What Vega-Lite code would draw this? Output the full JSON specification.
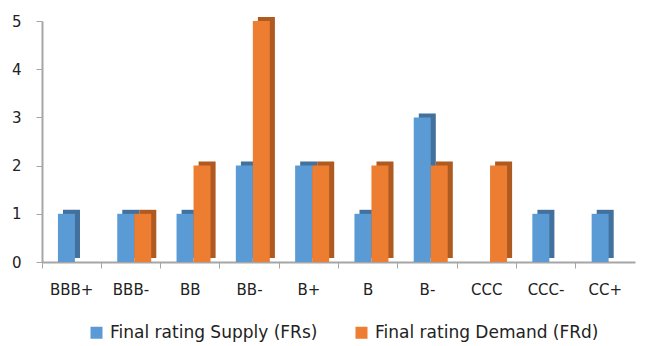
{
  "$schema": "https://vega.github.io/schema/vega-lite/v6.json",
  "width": 593,
  "height": 241,
  "autosize": {"type": "none"},
  "background": "white",
  "padding": {"left": 42, "right": 13, "top": 21, "bottom": 84},
  "config": {
    "view": {"stroke": null},
    "font": "DejaVu Sans",
    "axis": {"labelFont": "DejaVu Sans", "labelColor": "#222222", "domainColor": "#a6a6a6", "tickColor": "#a6a6a6", "grid": false}
  },
  "data": {
    "values": [
      {"rating": "BBB+", "series": "Final rating Supply (FRs)", "count": 1},
      {"rating": "BBB+", "series": "Final rating Demand (FRd)", "count": 0},
      {"rating": "BBB-", "series": "Final rating Supply (FRs)", "count": 1},
      {"rating": "BBB-", "series": "Final rating Demand (FRd)", "count": 1},
      {"rating": "BB", "series": "Final rating Supply (FRs)", "count": 1},
      {"rating": "BB", "series": "Final rating Demand (FRd)", "count": 2},
      {"rating": "BB-", "series": "Final rating Supply (FRs)", "count": 2},
      {"rating": "BB-", "series": "Final rating Demand (FRd)", "count": 5},
      {"rating": "B+", "series": "Final rating Supply (FRs)", "count": 2},
      {"rating": "B+", "series": "Final rating Demand (FRd)", "count": 2},
      {"rating": "B", "series": "Final rating Supply (FRs)", "count": 1},
      {"rating": "B", "series": "Final rating Demand (FRd)", "count": 2},
      {"rating": "B-", "series": "Final rating Supply (FRs)", "count": 3},
      {"rating": "B-", "series": "Final rating Demand (FRd)", "count": 2},
      {"rating": "CCC", "series": "Final rating Supply (FRs)", "count": 0},
      {"rating": "CCC", "series": "Final rating Demand (FRd)", "count": 2},
      {"rating": "CCC-", "series": "Final rating Supply (FRs)", "count": 1},
      {"rating": "CCC-", "series": "Final rating Demand (FRd)", "count": 0},
      {"rating": "CC+", "series": "Final rating Supply (FRs)", "count": 1},
      {"rating": "CC+", "series": "Final rating Demand (FRd)", "count": 0}
    ]
  },
  "resolve": {"scale": {"xOffset": "independent"}},
  "layer": [
    {
      "mark": {"type": "bar", "yOffset": -4, "y2Offset": 0},
      "encoding": {
        "x": {
          "field": "rating", "type": "nominal",
          "sort": ["BBB+", "BBB-", "BB", "BB-", "B+", "B", "B-", "CCC", "CCC-", "CC+"],
          "scale": {"paddingInner": 0, "paddingOuter": 0},
          "axis": {"title": null, "labelAngle": 0, "labelFontSize": 15, "labelPadding": 14, "bandPosition": 0, "tickSize": 6, "domainWidth": 2}
        },
        "xOffset": {
          "field": "series", "type": "nominal",
          "sort": ["Final rating Supply (FRs)", "Final rating Demand (FRd)"],
          "scale": {"paddingInner": 0, "paddingOuter": 0.744, "align": 0.83}
        },
        "y": {
          "field": "count", "type": "quantitative",
          "scale": {"domain": [0, 5], "nice": false},
          "axis": {"title": null, "values": [0, 1, 2, 3, 4, 5], "labelOverlap": false, "labelFontSize": 15, "labelPadding": 15, "tickSize": 6, "domainWidth": 2}
        },
        "color": {
          "field": "series", "type": "nominal",
          "sort": ["Final rating Supply (FRs)", "Final rating Demand (FRd)"],
          "scale": {"range": ["#41719c", "#ae5a21"]},
          "legend": null
        }
      }
    },
    {
      "mark": {"type": "bar"},
      "encoding": {
        "x": {
          "field": "rating", "type": "nominal",
          "sort": ["BBB+", "BBB-", "BB", "BB-", "B+", "B", "B-", "CCC", "CCC-", "CC+"],
          "scale": {"paddingInner": 0, "paddingOuter": 0},
          "axis": {"title": null, "labelAngle": 0, "labelFontSize": 15, "labelPadding": 14, "bandPosition": 0, "tickSize": 6, "domainWidth": 2}
        },
        "xOffset": {
          "field": "series", "type": "nominal",
          "sort": ["Final rating Supply (FRs)", "Final rating Demand (FRd)"],
          "scale": {"paddingInner": 0, "paddingOuter": 0.744, "align": 0.63}
        },
        "y": {
          "field": "count", "type": "quantitative",
          "scale": {"domain": [0, 5], "nice": false},
          "axis": {"title": null, "values": [0, 1, 2, 3, 4, 5], "labelOverlap": false, "labelFontSize": 15, "labelPadding": 15, "tickSize": 6, "domainWidth": 2}
        },
        "fill": {
          "field": "series", "type": "nominal",
          "sort": ["Final rating Supply (FRs)", "Final rating Demand (FRd)"],
          "scale": {"range": ["#5b9bd5", "#ed7d31"]},
          "legend": {"title": null, "orient": "none", "legendX": 46, "legendY": 303, "direction": "horizontal", "labelFontSize": 17, "labelColor": "#222222", "labelLimit": 0, "labelOffset": 5, "symbolType": "square", "symbolSize": 144, "symbolStrokeWidth": 0, "columnPadding": 35, "labelFont": "DejaVu Sans"}
        }
      }
    }
  ]
}
